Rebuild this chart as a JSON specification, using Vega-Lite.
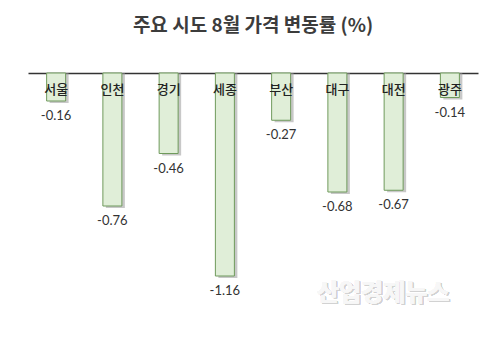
{
  "$schema": "https://vega.github.io/schema/vega-lite/v6.json",
  "width": 450,
  "height": 245,
  "autosize": "none",
  "padding": {"left": 28, "top": 73, "right": 23, "bottom": 33},
  "background": "white",
  "title": {
    "text": "주요 시도 8월 가격 변동률 (%)",
    "font": "Noto Sans CJK KR",
    "fontSize": 19,
    "fontWeight": 600,
    "color": "#3c3c3c",
    "anchor": "middle",
    "offset": 37
  },
  "data": {
    "values": [
      {"region": "서울", "value": -0.16},
      {"region": "인천", "value": -0.76},
      {"region": "경기", "value": -0.46},
      {"region": "세종", "value": -1.16},
      {"region": "부산", "value": -0.27},
      {"region": "대구", "value": -0.68},
      {"region": "대전", "value": -0.67},
      {"region": "광주", "value": -0.14}
    ]
  },
  "encoding": {
    "x": {
      "field": "region",
      "type": "nominal",
      "sort": null,
      "axis": {"orient": "top", "labels": false, "ticks": false, "title": null, "domainColor": "#333333", "domainWidth": 1.5}
    }
  },
  "layer": [
    {
      "mark": {"type": "bar", "size": 19, "color": "#9a9a9a", "opacity": 0.55, "xOffset": 3, "yOffset": 2},
      "encoding": {
        "y": {"field": "value", "type": "quantitative", "scale": {"domain": [-1.4, 0], "nice": false}, "axis": null},
        "y2": {"datum": 0}
      }
    },
    {
      "mark": {"type": "bar", "size": 19, "fill": "#e0eed8", "stroke": "#6f9a5c", "strokeWidth": 1},
      "encoding": {
        "y": {"field": "value", "type": "quantitative"},
        "y2": {"datum": 0}
      }
    },
    {
      "mark": {"type": "text", "font": "Noto Sans CJK KR", "fontSize": 13, "fontWeight": 500, "color": "#222222", "baseline": "middle", "dy": 17},
      "encoding": {
        "y": {"datum": 0},
        "text": {"field": "region"}
      }
    },
    {
      "mark": {"type": "text", "font": "Lato", "fontSize": 13, "color": "#333333", "baseline": "middle", "dy": 15},
      "encoding": {
        "y": {"field": "value", "type": "quantitative"},
        "text": {"field": "value", "type": "nominal"}
      }
    },
    {
      "mark": {"type": "text", "font": "Noto Sans CJK KR", "fontSize": 24, "fontWeight": "bold", "color": "#d2d2d2", "dx": -9, "dy": 1.5, "clip": false},
      "encoding": {
        "x": {"datum": "대전"},
        "y": {"datum": -1.26},
        "text": {"value": "산업경제뉴스"}
      }
    },
    {
      "mark": {"type": "text", "font": "Noto Sans CJK KR", "fontSize": 24, "fontWeight": "bold", "color": "#f7f7f7", "dx": -10.5, "clip": false},
      "encoding": {
        "x": {"datum": "대전"},
        "y": {"datum": -1.26},
        "text": {"value": "산업경제뉴스"}
      }
    }
  ],
  "config": {"view": {"stroke": null}}
}
